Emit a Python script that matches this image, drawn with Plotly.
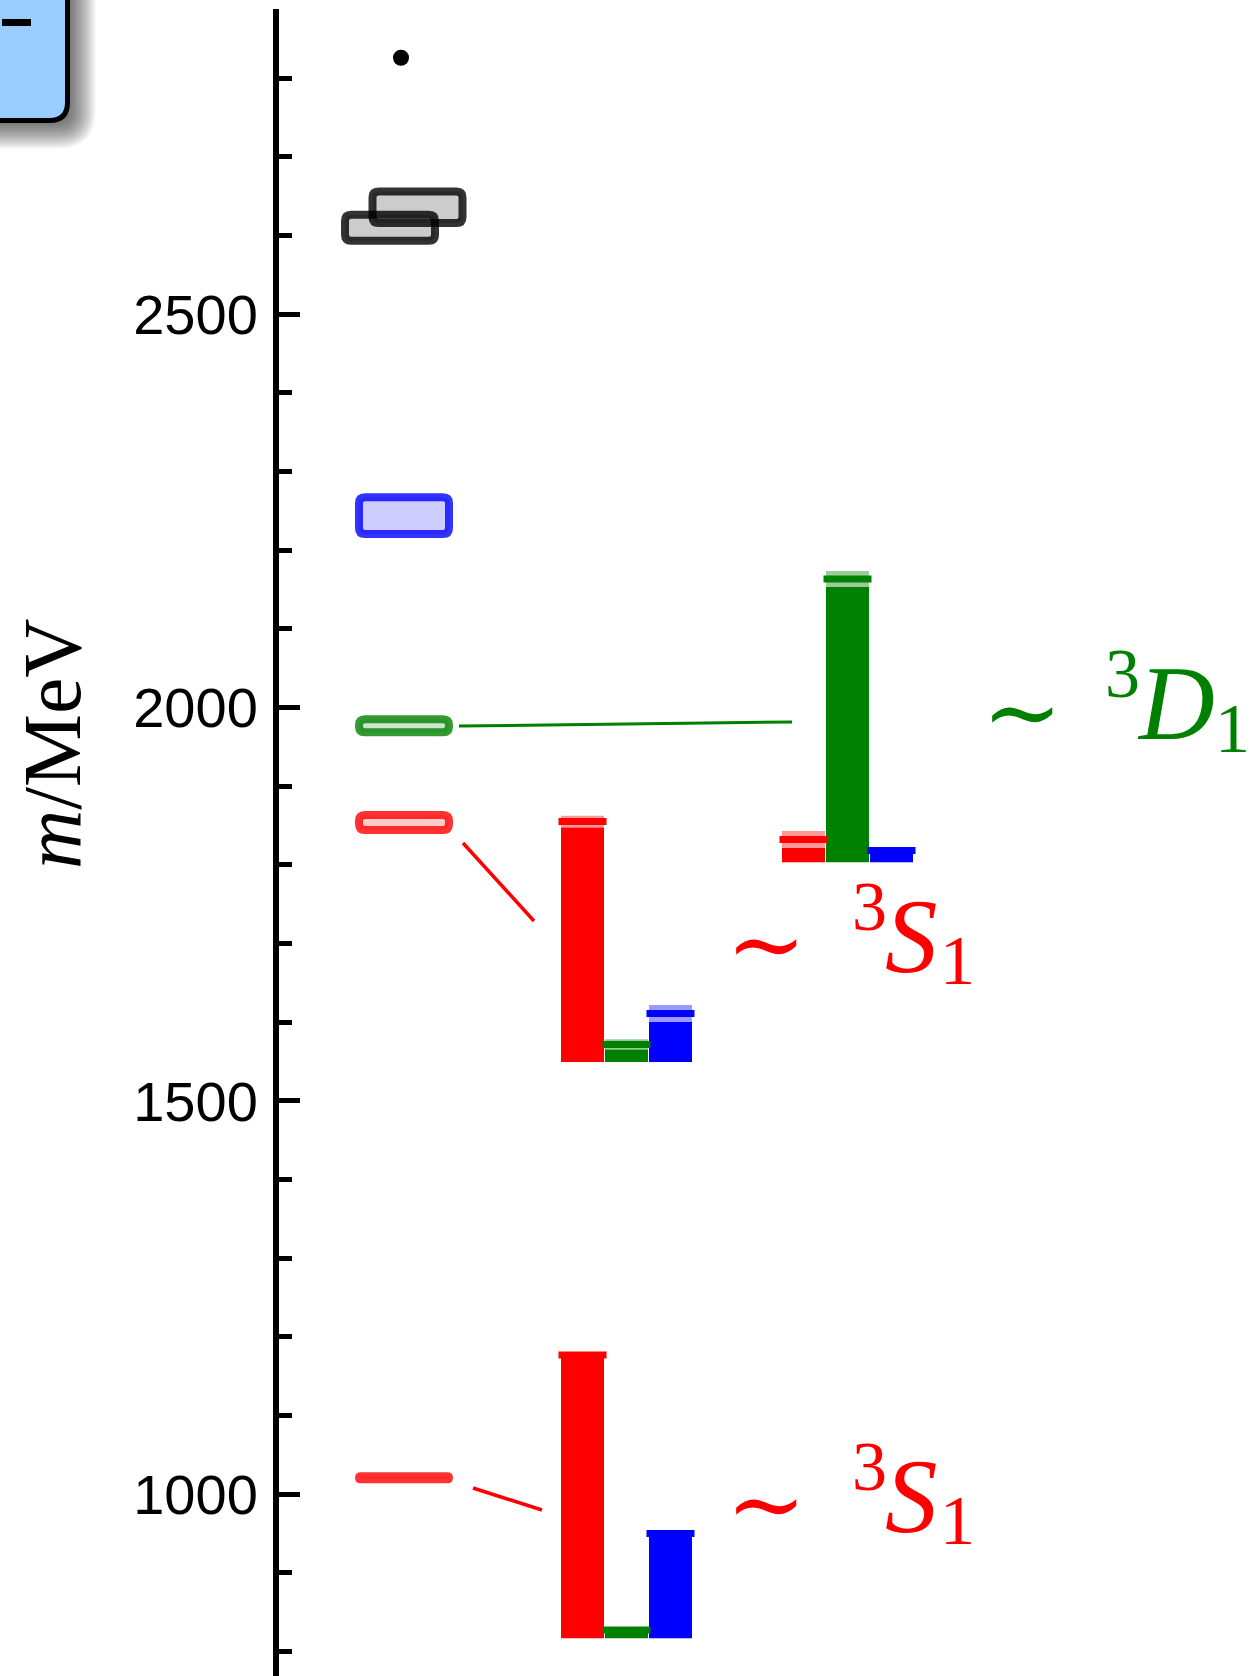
import plotly.graph_objects as go

# ---------------- data ----------------
# Mass levels in MeV with their uncertainties
dot_masses = [2826]
gray_masses = [2610, 2636]
gray_errs = [16.5, 20.0]
blue_masses = [2244]
blue_errs = [23.5]
green_masses = [1977]
green_errs = [8.3]
red_masses = [1854, 1021]
red_errs = [9.5, 2.0]

# Relative operator overlaps (red, green, blue operator classes) for three levels
ground_overlaps = [1.0, 0.030, 0.370]
ground_errs = [0.008, 0.008, 0.008]
excited_overlaps = [0.848, 0.062, 0.171]
excited_errs = [0.021, 0.018, 0.030]
dwave_overlaps = [0.081, 1.0, 0.042]
dwave_errs = [0.030, 0.028, 0.006]

y_ticks = [1000, 1500, 2000, 2500]
y_tick_labels = ["1000", "1500", "2000", "2500"]
y_title = "<i>m</i>/MeV"
label_s = ["∼", "3", "<i>S</i>", "1"]
label_d = ["∼", "3", "<i>D</i>", "1"]

# ---------------- layout constants ----------------
W, H = 1249, 1676
M_L, M_T = 279, 9
PW, PH = W - M_L, H - M_T
Y_RANGE = [769, 2888]
KY = PH / (Y_RANGE[1] - Y_RANGE[0])   # pixels per MeV

SOLID = ["rgb(255,0,0)", "rgb(0,128,0)", "rgb(0,0,255)"]
BAND = ["rgba(255,0,0,0.4)", "rgba(0,128,0,0.4)", "rgba(0,0,255,0.4)"]


def xp(px):
    return (px - M_L) / PW


def yp(py):
    return (H - py) / PH


def rounded_path(x0, x1, y0, y1, r_px, ky=1.0):
    """Closed rounded-rectangle path; x in pixels, y in axis units (ky px/unit)."""
    h_px = abs(y1 - y0) * ky
    r = min(r_px, h_px / 2, (x1 - x0) / 2)
    ry = r / ky * (1 if y1 > y0 else -1)
    return (f"M {x0 + r},{y0} L {x1 - r},{y0} Q {x1},{y0} {x1},{y0 + ry} "
            f"L {x1},{y1 - ry} Q {x1},{y1} {x1 - r},{y1} L {x0 + r},{y1} "
            f"Q {x0},{y1} {x0},{y1 - ry} L {x0},{y0 + ry} Q {x0},{y0} {x0 + r},{y0} Z")


def paper_rounded(x0, x1, y0, y1, r):
    """Rounded rectangle given in page pixels, returned in paper units."""
    pts = rounded_path(x0, x1, y0, y1, r)
    out = []
    for tok in pts.split():
        if "," in tok:
            a, b = tok.split(",")
            out.append(f"{xp(float(a))},{yp(float(b))}")
        else:
            out.append(tok)
    return " ".join(out)


fig = go.Figure()
shapes = []
annotations = []

# ---- legend panel in the corner (with soft drop shadow) ----
PANEL = (-60, 67.5, -60, 120.5)
for i in range(14):
    s = -6 + i * 2
    x0, x1, y0, y1 = PANEL[0] + 8 - s, PANEL[1] + 8 + s, PANEL[2] + 8 - s, PANEL[3] + 8 + s
    shapes.append(dict(type="path", xref="paper", yref="paper", layer="above",
                       path=paper_rounded(x0, x1, y0, y1, 18 + max(s, 0)),
                       fillcolor="rgba(0,0,0,0.05)", line=dict(width=0)))
shapes.append(dict(type="path", xref="paper", yref="paper", layer="above",
                   path=paper_rounded(*PANEL, 18),
                   fillcolor="rgb(153,204,255)", line=dict(color="black", width=5)))
shapes.append(dict(type="line", xref="paper", yref="paper", layer="above",
                   x0=xp(2), x1=xp(31), y0=yp(22.5), y1=yp(22.5),
                   line=dict(color="black", width=7)))

# ---- mass levels as rounded boxes ----
LEVEL_X = 404
LEVEL_HW = 45
STROKE = 8
levels = []
for m, e, dx in zip(gray_masses, gray_errs, [-14, 13.5]):
    levels.append((m, e, LEVEL_X + dx, "rgba(0,0,0,0.2)", "rgba(0,0,0,0.8)"))
for m, e in zip(blue_masses, blue_errs):
    levels.append((m, e, LEVEL_X, "rgba(0,0,255,0.2)", "rgba(0,0,255,0.8)"))
for m, e in zip(green_masses, green_errs):
    levels.append((m, e, LEVEL_X, "rgba(0,128,0,0.2)", "rgba(0,128,0,0.8)"))
for m, e in zip(red_masses, red_errs):
    levels.append((m, e, LEVEL_X, "rgba(255,0,0,0.2)", "rgba(255,0,0,0.8)"))
for m, e, cx, fill, edge in levels:
    shapes.append(dict(type="path", xref="x", yref="y", layer="above",
                       path=rounded_path(cx - LEVEL_HW, cx + LEVEL_HW, m - e, m + e, 6, KY),
                       fillcolor=fill, line=dict(color=edge, width=STROKE)))

fig.add_trace(go.Scatter(x=[LEVEL_X - 3] * len(dot_masses), y=dot_masses, mode="markers",
                         marker=dict(color="black", size=16), hoverinfo="skip"))

# ---- connectors from levels to their overlap insets ----
connectors = [
    (459, 726, 792, 722, "rgb(0,128,0)", 3),
    (463, 843, 534, 921, "rgb(255,0,0)", 3.5),
    (473, 1488, 542, 1510, "rgb(255,0,0)", 3.5),
]
for x0, y0, x1, y1, c, w in connectors:
    shapes.append(dict(type="line", xref="paper", yref="paper", layer="above",
                       x0=xp(x0), y0=yp(y0), x1=xp(x1), y1=yp(y1),
                       line=dict(color=c, width=w)))

# ---- overlap insets (one y axis per level) ----
UNIT_PX = 283.5
TOP = 1.2
BAR_W, BAR_STEP, CAP_W, CAP_T = 43, 44, 48, 7
insets = [
    ("y2", ground_overlaps, ground_errs, 626.5, 1638.5),
    ("y3", excited_overlaps, excited_errs, 626.5, 1062.0),
    ("y4", dwave_overlaps, dwave_errs, 847.5, 862.5),
]
axis_defs = {}
for ya, vals, errs, cx, base_px in insets:
    xs = [cx + (i - 1) * BAR_STEP for i in range(len(vals))]
    fig.add_trace(go.Bar(x=xs, y=[v - e for v, e in zip(vals, errs)], base=0, width=BAR_W,
                         marker=dict(color=SOLID, line=dict(width=0)), yaxis=ya, hoverinfo="skip"))
    fig.add_trace(go.Bar(x=xs, y=[2 * e for e in errs], base=[v - e for v, e in zip(vals, errs)],
                         width=BAR_W, marker=dict(color=BAND, line=dict(width=0)),
                         yaxis=ya, hoverinfo="skip"))
    # line-ew markers are 1.4x their nominal size long
    fig.add_trace(go.Scatter(x=xs, y=vals, mode="markers", yaxis=ya, cliponaxis=False,
                             marker=dict(symbol="line-ew", size=CAP_W / 1.4,
                                         line=dict(width=CAP_T, color=SOLID)),
                             hoverinfo="skip"))
    name = "yaxis" + ya[1:]
    axis_defs[name] = dict(domain=[yp(base_px), yp(base_px - TOP * UNIT_PX)], range=[0, TOP],
                           anchor="x", visible=False, showgrid=False, zeroline=False,
                           fixedrange=True)

# ---- state labels ----
def add_label(parts, color, tilde_x, tilde_y, x_off):
    sizes = [96, 70, 105, 70]
    fams = ["DejaVu Serif", "Liberation Serif", "Liberation Serif", "Liberation Serif"]
    dys = [0, -37.5, -8, 16.5]
    for txt, s, f, dx, dy in zip(parts, sizes, fams, x_off, dys):
        annotations.append(dict(text=txt, x=xp(tilde_x + dx), y=yp(tilde_y + dy),
                                xref="paper", yref="paper", showarrow=False,
                                xanchor="center", yanchor="middle",
                                font=dict(family=f, size=s, color=color)))


add_label(label_s, "rgb(255,0,0)", 766, 1504, [0, 103, 145, 191.5])
add_label(label_s, "rgb(255,0,0)", 766, 944, [0, 103, 145, 191.5])
add_label(label_d, "rgb(0,128,0)", 1022, 711.5, [0, 100, 154, 210])

annotations.append(dict(text=y_title, x=xp(52), y=yp(744), xref="paper", yref="paper",
                        showarrow=False, textangle=-90, xanchor="center", yanchor="middle",
                        font=dict(family="Liberation Serif", size=82, color="black")))

fig.update_layout(
    width=W, height=H,
    margin=dict(l=M_L, r=0, t=M_T, b=0, pad=0),
    paper_bgcolor="white", plot_bgcolor="rgba(0,0,0,0)",
    showlegend=False, barmode="overlay",
    xaxis=dict(range=[M_L, W], visible=False, showgrid=False, zeroline=False, fixedrange=True),
    yaxis=dict(range=Y_RANGE, showline=True, linecolor="black", linewidth=6,
               ticks="inside", ticklen=21, tickwidth=5, tickcolor="black",
               tickmode="array", tickvals=y_ticks, ticktext=y_tick_labels,
               tickfont=dict(family="Liberation Sans", size=56, color="black"),
               ticklabelstandoff=4,
               showgrid=False, zeroline=False, fixedrange=True,
               minor=dict(tickmode="linear", tick0=0, dtick=100, ticks="inside",
                          ticklen=13, tickwidth=5, tickcolor="black", showgrid=False)),
    shapes=shapes, annotations=annotations,
    **axis_defs,
)

fig.write_html("out.html")
